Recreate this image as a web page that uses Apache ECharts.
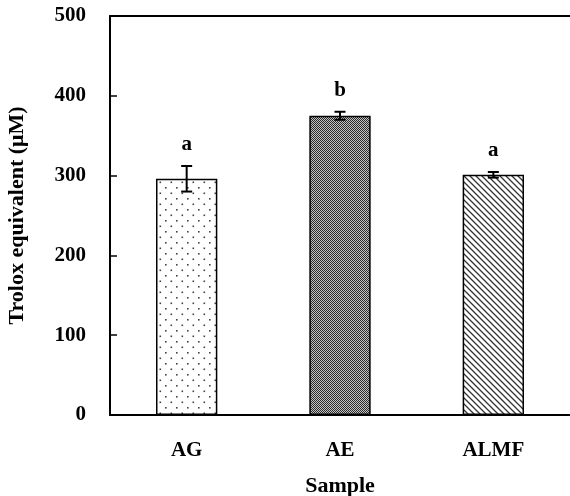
<!DOCTYPE html>
<html>
<head>
<meta charset="utf-8">
<script src="https://cdn.jsdelivr.net/npm/echarts@6/dist/echarts.min.js"></script>
<style>
  html, body { margin: 0; padding: 0; background: #fff; }
  #main { width: 570px; height: 496px; }
</style>
</head>
<body>
<div id="main"></div>
<script>
// data
var categories = ['AG', 'AE', 'ALMF'];
var means = [296, 375, 301];
var errors = [16, 5, 3.5];
var letters = ['a', 'b', 'a'];
var yMin = 0, yMax = 500, yStep = 100;

var FONT = '"Liberation Serif", "Times New Roman", serif';

// fill patterns
function makeTile(w, h, draw) {
  var c = document.createElement('canvas');
  c.width = w; c.height = h;
  var ctx = c.getContext('2d');
  ctx.fillStyle = '#fff';
  ctx.fillRect(0, 0, w, h);
  draw(ctx);
  return c;
}

var dots = makeTile(11, 11, function (ctx) {
  ctx.fillStyle = '#444';
  ctx.fillRect(0, 0, 1.6, 1.6);
  ctx.fillRect(5.5, 5.5, 1.6, 1.6);
});

var checker = makeTile(2, 2, function (ctx) {
  ctx.fillStyle = '#2a2a2a';
  ctx.fillRect(0, 0, 1, 1);
  ctx.fillRect(1, 1, 1, 1);
  ctx.fillStyle = '#c4c4c4';
  ctx.fillRect(1, 0, 1, 1);
  ctx.fillRect(0, 1, 1, 1);
});

var hatch = makeTile(6, 6, function (ctx) {
  ctx.strokeStyle = '#333';
  ctx.lineWidth = 1.3;
  ctx.beginPath();
  ctx.moveTo(-1, -1); ctx.lineTo(7, 7);
  ctx.moveTo(-1, 5); ctx.lineTo(1, 7);
  ctx.moveTo(5, -1); ctx.lineTo(7, 1);
  ctx.stroke();
});

var patterns = [dots, checker, hatch];

var chartDom = document.getElementById('main');
var myChart = echarts.init(chartDom);

var option = {
  animation: false,
  grid: { left: 110, right: 0, top: 16, bottom: 81, containLabel: false, outerBoundsMode: 'none' },
  xAxis: [
    {
      type: 'category',
      data: categories,
      name: 'Sample',
      nameLocation: 'middle',
      nameGap: 60,
      nameTextStyle: { fontFamily: FONT, fontWeight: 'bold', fontSize: 22, color: '#000' },
      axisLine: { lineStyle: { color: '#000', width: 2 } },
      axisTick: { show: false },
      axisLabel: { margin: 25, fontFamily: FONT, fontWeight: 'bold', fontSize: 21, color: '#000' }
    },
    {
      type: 'category',
      data: categories,
      position: 'top',
      axisLine: { show: true, onZero: false, lineStyle: { color: '#000', width: 2 } },
      axisTick: { show: false },
      axisLabel: { show: false }
    }
  ],
  yAxis: {
    type: 'value',
    min: yMin,
    max: yMax,
    interval: yStep,
    name: 'Trolox equivalent (μM)',
    nameLocation: 'middle',
    nameGap: 82,
    nameTextStyle: { fontFamily: FONT, fontWeight: 'bold', fontSize: 22, color: '#000' },
    axisLine: { show: true, lineStyle: { color: '#000', width: 2 } },
    axisTick: { show: true, inside: true, length: 7, lineStyle: { color: '#000', width: 1.5 } },
    splitLine: { show: false },
    axisLabel: { margin: 24, fontFamily: FONT, fontWeight: 'bold', fontSize: 21, color: '#000' }
  },
  series: [
    {
      type: 'bar',
      barWidth: '40%',
      z: 2,
      data: means.map(function (v, i) {
        return {
          value: v,
          itemStyle: {
            color: { image: patterns[i], repeat: 'repeat' },
            borderColor: '#000',
            borderWidth: 1.5
          }
        };
      })
    },
    {
      type: 'custom',
      z: 10,
      data: means.map(function (v, i) { return [i, v, errors[i]]; }),
      renderItem: function (params, api) {
        var i = api.value(0), m = api.value(1), e = api.value(2);
        var top = api.coord([i, m + e]);
        var bot = api.coord([i, m - e]);
        var hw = 5.5;
        var st = { stroke: '#000', lineWidth: 2 };
        return {
          type: 'group',
          children: [
            { type: 'line', shape: { x1: top[0], y1: top[1], x2: bot[0], y2: bot[1] }, style: st },
            { type: 'line', shape: { x1: top[0] - hw, y1: top[1], x2: top[0] + hw, y2: top[1] }, style: st },
            { type: 'line', shape: { x1: bot[0] - hw, y1: bot[1], x2: bot[0] + hw, y2: bot[1] }, style: st },
            {
              type: 'text',
              x: top[0],
              y: top[1] - 21,
              style: {
                text: letters[params.dataIndex],
                fill: '#000',
                font: 'bold 21px ' + FONT,
                align: 'center',
                verticalAlign: 'middle'
              }
            }
          ]
        };
      }
    }
  ]
};

myChart.setOption(option);

window.addEventListener('resize', function () { myChart.resize(); });
</script>
</body>
</html>
